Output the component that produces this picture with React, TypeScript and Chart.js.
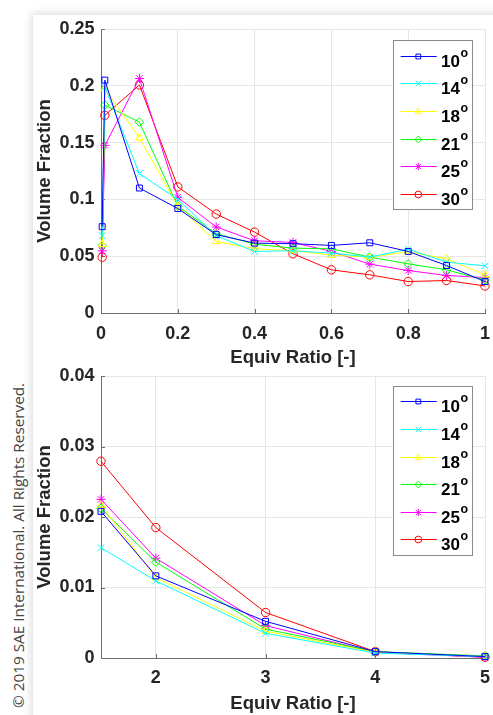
import React, { useEffect, useRef } from 'react';
import { Chart, registerables } from 'chart.js';
import { drawPoint } from 'chart.js/helpers';

Chart.register(...registerables);

const FONT = "'Liberation Sans', Arial, Helvetica, sans-serif";

const SERIES_LABELS = ['10°', '14°', '18°', '21°', '25°', '30°'];
const SERIES_COLORS = ['#0000ff', '#00ffff', '#ffff00', '#00ff00', '#ff00ff', '#ff0000'];
const SERIES_MARKERS = ['rect', 'crossRot', 'triangle', 'rectRot', 'star', 'circle'];
const MARKER_RADII = [4.2, 4.8, 4.4, 4.3, 4.6, 4.2];

// Top panel: lean side, equivalence ratio 0..1
const LEAN_X = [0.003, 0.01, 0.1, 0.2, 0.3, 0.4, 0.5, 0.6, 0.7, 0.8, 0.9, 1.0];
const LEAN_10 = [0.076, 0.205, 0.110, 0.092, 0.069, 0.0615, 0.061, 0.0595, 0.0618, 0.0542, 0.0418, 0.0277];
const LEAN_14 = [0.068, 0.199, 0.1227, 0.100, 0.068, 0.0542, 0.0548, 0.0527, 0.0492, 0.0562, 0.0448, 0.0415];
const LEAN_18 = [0.0605, 0.1975, 0.154, 0.094, 0.063, 0.0565, 0.055, 0.051, 0.049, 0.054, 0.0477, 0.0336];
const LEAN_21 = [0.0595, 0.183, 0.168, 0.094, 0.0698, 0.0606, 0.0571, 0.0565, 0.0492, 0.0433, 0.038, 0.0291];
const LEAN_25 = [0.0548, 0.1475, 0.2064, 0.1018, 0.0757, 0.0636, 0.0621, 0.0542, 0.043, 0.0374, 0.033, 0.0312];
const LEAN_30 = [0.0491, 0.174, 0.2007, 0.111, 0.0871, 0.0712, 0.0521, 0.038, 0.0336, 0.0277, 0.0286, 0.0238];

const LEAN_X_TICKS = [0, 0.2, 0.4, 0.6, 0.8, 1];
const LEAN_Y_TICKS = [0, 0.05, 0.1, 0.15, 0.2, 0.25];

// Bottom panel: rich side, equivalence ratio 1.5..5
const RICH_X = [1.5, 2, 3, 4, 5];
const RICH_10 = [0.0208, 0.01165, 0.0052, 0.0009, 0.0002];
const RICH_14 = [0.01565, 0.01094, 0.0035, 0.0007, 0.0002];
const RICH_18 = [0.0217, 0.0114, 0.0038, 0.0008, 0.0002];
const RICH_21 = [0.0212, 0.0136, 0.0041, 0.0009, 0.0003];
const RICH_25 = [0.0225, 0.01415, 0.0046, 0.0008, 0.0001];
const RICH_30 = [0.0279, 0.0185, 0.00645, 0.0009, 0.0001];

const RICH_X_TICKS = [2, 3, 4, 5];
const RICH_Y_TICKS = [0, 0.01, 0.02, 0.03, 0.04];

const X_TITLE = 'Equiv Ratio [-]';
const Y_TITLE = 'Volume Fraction';
const WATERMARK = '© 2019 SAE International. All Rights Reserved.';

const insideLegend = {
  id: 'insideLegend',
  afterDraw(chart: any, _args: any, opts: any) {
    const { ctx, chartArea } = chart;
    const dsets = chart.data.datasets;
    const rowH = 27.6;
    const w = 79;
    const x0 = chartArea.right - 12.7 - w;
    const y0 = chartArea.top + opts.top;
    const h = 15.5 * 2 + (dsets.length - 1) * rowH;
    ctx.save();
    ctx.fillStyle = '#ffffff';
    ctx.fillRect(x0, y0, w, h);
    ctx.strokeStyle = '#8a8a8a';
    ctx.lineWidth = 1;
    ctx.strokeRect(Math.round(x0) + 0.5, Math.round(y0) + 0.5, Math.round(w), Math.round(h));
    dsets.forEach((ds: any, i: number) => {
      const cy = Math.round(y0 + 15.7 + i * rowH) + 0.5;
      ctx.strokeStyle = ds.borderColor;
      ctx.lineWidth = 1;
      ctx.beginPath();
      ctx.moveTo(x0 + 7.4, cy);
      ctx.lineTo(x0 + 43.4, cy);
      ctx.stroke();
      ctx.save();
      ctx.strokeStyle = ds.pointBorderColor;
      ctx.fillStyle = 'rgba(0,0,0,0)';
      ctx.lineWidth = 1;
      drawPoint(ctx, { pointStyle: ds.pointStyle, rotation: 0, radius: ds.pointRadius * 0.8, borderWidth: 1 } as any, x0 + 25, cy);
      ctx.restore();
      const label: string = ds.label;
      const base = label.replace('°', '');
      ctx.fillStyle = '#000000';
      ctx.textAlign = 'left';
      ctx.textBaseline = 'alphabetic';
      ctx.font = `bold 17px ${FONT}`;
      ctx.fillText(base, x0 + 47.7, cy + 10);
      const bw = ctx.measureText(base).width;
      if (label.includes('°')) {
        ctx.font = `bold 12.5px ${FONT}`;
        ctx.fillText('o', x0 + 47.7 + bw + 0.5, cy + 0.5);
      }
    });
    ctx.restore();
  },
};

const innerTicks = {
  id: 'innerTicks',
  beforeDatasetsDraw(chart: any) {
    const { ctx, chartArea, scales } = chart;
    const xs = scales.x;
    const ys = scales.y;
    ctx.save();
    ctx.strokeStyle = '#6e6e6e';
    ctx.lineWidth = 1;
    ctx.beginPath();
    xs.ticks.forEach((t: any) => {
      const px = Math.round(xs.getPixelForValue(t.value)) + 0.5;
      ctx.moveTo(px, chartArea.bottom);
      ctx.lineTo(px, chartArea.bottom - 4);
    });
    ys.ticks.forEach((t: any) => {
      const py = Math.round(ys.getPixelForValue(t.value)) + 0.5;
      ctx.moveTo(chartArea.left, py);
      ctx.lineTo(chartArea.left + 4, py);
    });
    ctx.stroke();
    ctx.restore();
  },
};

function buildDatasets(xs: number[], series: number[][]) {
  return series.map((ys, i) => ({
    label: SERIES_LABELS[i],
    data: xs.map((x, j) => ({ x, y: ys[j] })),
    borderColor: SERIES_COLORS[i],
    borderWidth: 1,
    pointStyle: SERIES_MARKERS[i],
    pointRadius: MARKER_RADII[i],
    pointBorderColor: SERIES_COLORS[i],
    pointBackgroundColor: 'rgba(0,0,0,0)',
    pointBorderWidth: 1,
    fill: false,
    tension: 0,
    clip: false as any,
  }));
}

interface PanelCfg {
  xs: number[];
  series: number[][];
  xMin: number;
  xMax: number;
  yMin: number;
  yMax: number;
  xTicks: number[];
  yTicks: number[];
  padTop: number;
  xHeight: number;
  xTickPad: number;
  xTitlePadBottom: number;
  legendTop: number;
}

function makeConfig(cfg: PanelCfg): any {
  const tickFont = { family: FONT, size: 18, weight: 'bold' as const };
  const titleFont = { family: FONT, size: 18.5, weight: 'bold' as const };
  return {
    type: 'line',
    data: { datasets: buildDatasets(cfg.xs, cfg.series) },
    plugins: [innerTicks, insideLegend],
    options: {
      animation: false,
      responsive: false,
      maintainAspectRatio: false,
      events: [],
      layout: { padding: { left: 0, right: 8, top: cfg.padTop, bottom: 0 } },
      plugins: {
        legend: { display: false },
        tooltip: { enabled: false },
        insideLegend: { top: cfg.legendTop },
      },
      scales: {
        x: {
          type: 'linear',
          min: cfg.xMin,
          max: cfg.xMax,
          afterBuildTicks: (s: any) => {
            s.ticks = cfg.xTicks.map((v) => ({ value: v }));
          },
          afterFit: (s: any) => {
            s.height = cfg.xHeight;
            s.paddingLeft = 0;
            s.paddingRight = 0;
          },
          grid: { color: '#e6e6e6', drawTicks: false, lineWidth: 1 },
          border: { color: '#6e6e6e', width: 1 },
          ticks: {
            font: tickFont,
            color: '#262626',
            padding: cfg.xTickPad,
            maxRotation: 0,
            autoSkip: false,
            callback: (v: any) => String(v),
          },
          title: {
            display: true,
            text: X_TITLE,
            font: titleFont,
            color: '#262626',
            padding: { top: 0, bottom: cfg.xTitlePadBottom },
          },
        },
        y: {
          type: 'linear',
          min: cfg.yMin,
          max: cfg.yMax,
          afterBuildTicks: (s: any) => {
            s.ticks = cfg.yTicks.map((v) => ({ value: v }));
          },
          afterFit: (s: any) => {
            s.width = 101;
            s.paddingTop = 0;
            s.paddingBottom = 0;
          },
          grid: { color: '#e6e6e6', drawTicks: false, lineWidth: 1 },
          border: { color: '#6e6e6e', width: 1 },
          ticks: {
            font: tickFont,
            color: '#262626',
            padding: 6.5,
            autoSkip: false,
            callback: (v: any) => String(v),
          },
          title: {
            display: true,
            text: Y_TITLE,
            font: titleFont,
            color: '#262626',
            padding: { top: 33.5, bottom: 0 },
          },
        },
      },
    },
  };
}

function Panel(props: { cfg: PanelCfg; top: number; height: number }) {
  const ref = useRef<HTMLCanvasElement | null>(null);
  useEffect(() => {
    if (!ref.current) return;
    const chart = new Chart(ref.current, makeConfig(props.cfg));
    return () => chart.destroy();
  }, []);
  return (
    <canvas
      ref={ref}
      width={493}
      height={props.height}
      style={{ position: 'absolute', left: 0, top: props.top, width: 493, height: props.height, display: 'block' }}
    />
  );
}

const LEAN_CFG: PanelCfg = {
  xs: LEAN_X,
  series: [LEAN_10, LEAN_14, LEAN_18, LEAN_21, LEAN_25, LEAN_30],
  xMin: 0,
  xMax: 1,
  yMin: 0,
  yMax: 0.25,
  xTicks: LEAN_X_TICKS,
  yTicks: LEAN_Y_TICKS,
  padTop: 29,
  xHeight: 59,
  xTickPad: 10.5,
  xTitlePadBottom: 3,
  legendTop: 11,
};

const RICH_CFG: PanelCfg = {
  xs: RICH_X,
  series: [RICH_10, RICH_14, RICH_18, RICH_21, RICH_25, RICH_30],
  xMin: 1.5,
  xMax: 5,
  yMin: 0,
  yMax: 0.04,
  xTicks: RICH_X_TICKS,
  yTicks: RICH_Y_TICKS,
  padTop: 14,
  xHeight: 57,
  xTickPad: 9.5,
  xTitlePadBottom: 0,
  legendTop: 9.7,
};

export default function App() {
  return (
    <div
      style={{
        position: 'absolute',
        left: 0,
        top: 0,
        width: 493,
        height: 715,
        overflow: 'hidden',
        background: '#ffffff',
      }}
    >
      <div
        style={{
          position: 'absolute',
          left: 33,
          top: 15,
          width: 520,
          height: 760,
          background: '#ffffff',
          boxShadow: '0 0 9px 1px rgba(0,0,0,0.16)',
        }}
      />
      <div
        style={{
          position: 'absolute',
          left: 7.5,
          top: 708,
          transformOrigin: '0 0',
          transform: 'rotate(-90deg)',
          whiteSpace: 'nowrap',
          fontFamily: "'Open Sans', 'Noto Sans', sans-serif",
          fontSize: 15.3,
          lineHeight: '20px',
          color: '#444444',
        }}
      >
        {WATERMARK}
      </div>
      <Panel cfg={LEAN_CFG} top={0} height={372} />
      <Panel cfg={RICH_CFG} top={362} height={353} />
    </div>
  );
}
